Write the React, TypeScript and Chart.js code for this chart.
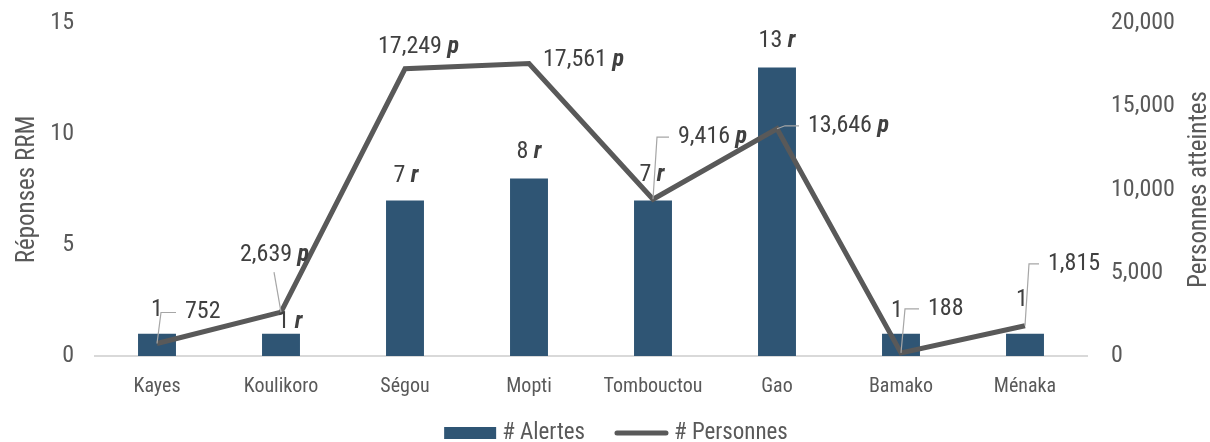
import { useEffect, useRef } from "react";
import { Chart, registerables } from "chart.js";

Chart.register(...registerables);

const FONT = "'Roboto Condensed', 'Liberation Sans Narrow', 'DejaVu Sans Condensed', Roboto, sans-serif";

const categories = ["Kayes", "Koulikoro", "Ségou", "Mopti", "Tombouctou", "Gao", "Bamako", "Ménaka"];
const alertes = [1, 1, 7, 8, 7, 13, 1, 1];
const personnes = [752, 2639, 17249, 17561, 9416, 13646, 188, 1815];
const alerteSuffix = ["", "r", "r", "r", "r", "r", "", ""];
const personneSuffix = ["", "p", "p", "p", "p", "p", "", ""];
const leftTicks = [0, 5, 10, 15];
const rightTicks = [0, 5000, 10000, 15000, 20000];
const seriesNames = ["# Alertes", "# Personnes"];
const axisTitles = ["Réponses RRM", "Personnes atteintes"];

const BAR_COLOR = "#2F5574";
const LINE_COLOR = "#595959";
const TEXT_COLOR = "#595959";
const LABEL_COLOR = "#404040";
const LEADER_COLOR = "#A6A6A6";

// label placement offsets (pixels) relative to the mark anchor
const barLabelOffsets: [number, number][] = [[0, -24], [9, -12], [1, -25], [0, -26], [-1, -26], [0, -26], [-4, -23], [-3, -34]];
const lineLabelOffsets: [number, number][] = [[28, -31], [-41, -57], [-27, -22], [14, -4], [25, -62], [31, -3], [27, -44], [23, -62]];
const lineLeaders = ["elbow", "straight", "none", "none", "elbow", "elbow", "elbow", "elbow"];
const leaderDx = [4, -7, 0, 0, 4, 8, 4, 4];

function drawRich(ctx: CanvasRenderingContext2D, text: string, suffix: string, x: number, y: number, align: string, size: number) {
  const normal = `${size}px ${FONT}`;
  const bold = `italic bold ${size}px ${FONT}`;
  ctx.font = normal;
  const w1 = ctx.measureText(text).width;
  const space = suffix ? ctx.measureText(" ").width : 0;
  ctx.font = bold;
  const w2 = suffix ? ctx.measureText(suffix).width : 0;
  const total = w1 + space + w2;
  const left = align === "center" ? x - total / 2 : x;
  ctx.textBaseline = "middle";
  ctx.textAlign = "left";
  ctx.fillStyle = LABEL_COLOR;
  ctx.font = normal;
  ctx.fillText(text, left, y);
  if (suffix) {
    ctx.font = bold;
    ctx.fillText(suffix, left + w1 + space, y);
  }
  return { left, width: total };
}

const labelPlugin = {
  id: "customLabels",
  afterDatasetsDraw(chart: any) {
    const ctx: CanvasRenderingContext2D = chart.ctx;
    const barMeta = chart.getDatasetMeta(0);
    const lineMeta = chart.getDatasetMeta(1);
    ctx.save();
    barMeta.data.forEach((el: any, i: number) => {
      const [dx, dy] = barLabelOffsets[i];
      drawRich(ctx, String(alertes[i]), alerteSuffix[i], el.x + dx, el.y + dy, "center", 24);
    });
    lineMeta.data.forEach((el: any, i: number) => {
      const [dx, dy] = lineLabelOffsets[i];
      const lx = el.x + dx;
      const ly = el.y + dy;
      const r = drawRich(ctx, personnes[i].toLocaleString("en-US"), personneSuffix[i], lx, ly, "left", 24);
      ctx.strokeStyle = LEADER_COLOR;
      ctx.lineWidth = 1.2;
      if (lineLeaders[i] === "elbow") {
        ctx.beginPath();
        ctx.moveTo(el.x, el.y);
        ctx.lineTo(el.x + leaderDx[i], ly);
        ctx.lineTo(r.left - 9, ly);
        ctx.stroke();
      } else if (lineLeaders[i] === "straight") {
        ctx.beginPath();
        ctx.moveTo(el.x, el.y);
        ctx.lineTo(el.x + leaderDx[i], ly + 17);
        ctx.stroke();
      }
    });
    ctx.restore();
  },
  afterDraw(chart: any) {
    const ctx: CanvasRenderingContext2D = chart.ctx;
    ctx.save();
    ctx.fillStyle = TEXT_COLOR;
    ctx.font = `25px ${FONT}`;
    ctx.textAlign = "center";
    ctx.textBaseline = "alphabetic";
    const midY = (chart.chartArea.top + chart.chartArea.bottom) / 2;
    ctx.save();
    ctx.translate(34, midY);
    ctx.rotate(-Math.PI / 2);
    ctx.fillText(axisTitles[0], 0, 0);
    ctx.restore();
    ctx.save();
    ctx.translate(1206, midY);
    ctx.rotate(-Math.PI / 2);
    ctx.fillText(axisTitles[1], 0, 0);
    ctx.restore();
    ctx.font = `23px ${FONT}`;
    ctx.textAlign = "left";
    ctx.textBaseline = "middle";
    const w1 = ctx.measureText(seriesNames[0]).width;
    const w2 = ctx.measureText(seriesNames[1]).width;
    const total = 52 + 6 + w1 + 29 + 55 + 5 + w2;
    let x = 616 - total / 2;
    ctx.fillStyle = BAR_COLOR;
    ctx.fillRect(x, 427, 52, 12);
    x += 58;
    ctx.fillStyle = TEXT_COLOR;
    ctx.fillText(seriesNames[0], x, 433);
    x += w1 + 29;
    ctx.strokeStyle = LINE_COLOR;
    ctx.lineWidth = 5;
    ctx.lineCap = "round";
    ctx.beginPath();
    ctx.moveTo(x + 3, 433);
    ctx.lineTo(x + 52, 433);
    ctx.stroke();
    x += 60;
    ctx.fillStyle = TEXT_COLOR;
    ctx.fillText(seriesNames[1], x, 433);
    ctx.restore();
  },
};

export default function App() {
  const canvasRef = useRef<HTMLCanvasElement | null>(null);

  useEffect(() => {
    if (!canvasRef.current) return;
    const chart = new Chart(canvasRef.current, {
      type: "bar",
      data: {
        labels: categories,
        datasets: [
          {
            type: "bar",
            label: seriesNames[0],
            data: alertes,
            yAxisID: "y",
            backgroundColor: BAR_COLOR,
            borderWidth: 0,
            categoryPercentage: 1,
            barPercentage: 0.306,
            order: 1,
          } as any,
          {
            type: "line",
            label: seriesNames[1],
            data: personnes,
            yAxisID: "y1",
            borderColor: LINE_COLOR,
            backgroundColor: LINE_COLOR,
            borderWidth: 5,
            pointRadius: 0,
            tension: 0,
            order: 0,
          } as any,
        ],
      },
      options: {
        animation: false,
        responsive: true,
        maintainAspectRatio: false,
        layout: { padding: { top: 23, bottom: 44, left: 0, right: 0 } },
        plugins: { legend: { display: false }, tooltip: { enabled: false } },
        scales: {
          x: {
            grid: { display: false },
            border: { display: true, color: "#D9D9D9", width: 2 },
            ticks: { color: TEXT_COLOR, font: { family: FONT, size: 20 }, padding: 11, maxRotation: 0 },
            afterFit: (s: any) => {
              s.height = 60;
              s.paddingLeft = 0;
              s.paddingRight = 0;
            },
          },
          y: {
            position: "left",
            min: 0,
            max: 15,
            grid: { display: false },
            border: { display: false },
            afterBuildTicks: (s: any) => {
              s.ticks = leftTicks.map((v) => ({ value: v }));
            },
            ticks: { color: TEXT_COLOR, font: { family: FONT, size: 24 }, padding: 13 },
            afterFit: (s: any) => {
              s.width = 95;
              s.paddingTop = 0;
              s.paddingBottom = 0;
            },
          },
          y1: {
            position: "right",
            min: 0,
            max: 20000,
            grid: { display: false },
            border: { display: false },
            afterBuildTicks: (s: any) => {
              s.ticks = rightTicks.map((v) => ({ value: v }));
            },
            ticks: {
              color: TEXT_COLOR,
              font: { family: FONT, size: 24 },
              padding: 16,
              callback: (v: any) => Number(v).toLocaleString("en-US"),
            },
            afterFit: (s: any) => {
              s.width = 123;
              s.paddingTop = 0;
              s.paddingBottom = 0;
            },
          },
        },
      } as any,
      plugins: [labelPlugin],
    });
    return () => chart.destroy();
  }, []);

  return (
    <div style={{ position: "fixed", left: 0, top: 0, width: 1210, height: 442, overflow: "hidden", background: "#fff" }}>
      <div style={{ position: "relative", width: 1210, height: 460 }}>
        <canvas ref={canvasRef} />
      </div>
    </div>
  );
}
